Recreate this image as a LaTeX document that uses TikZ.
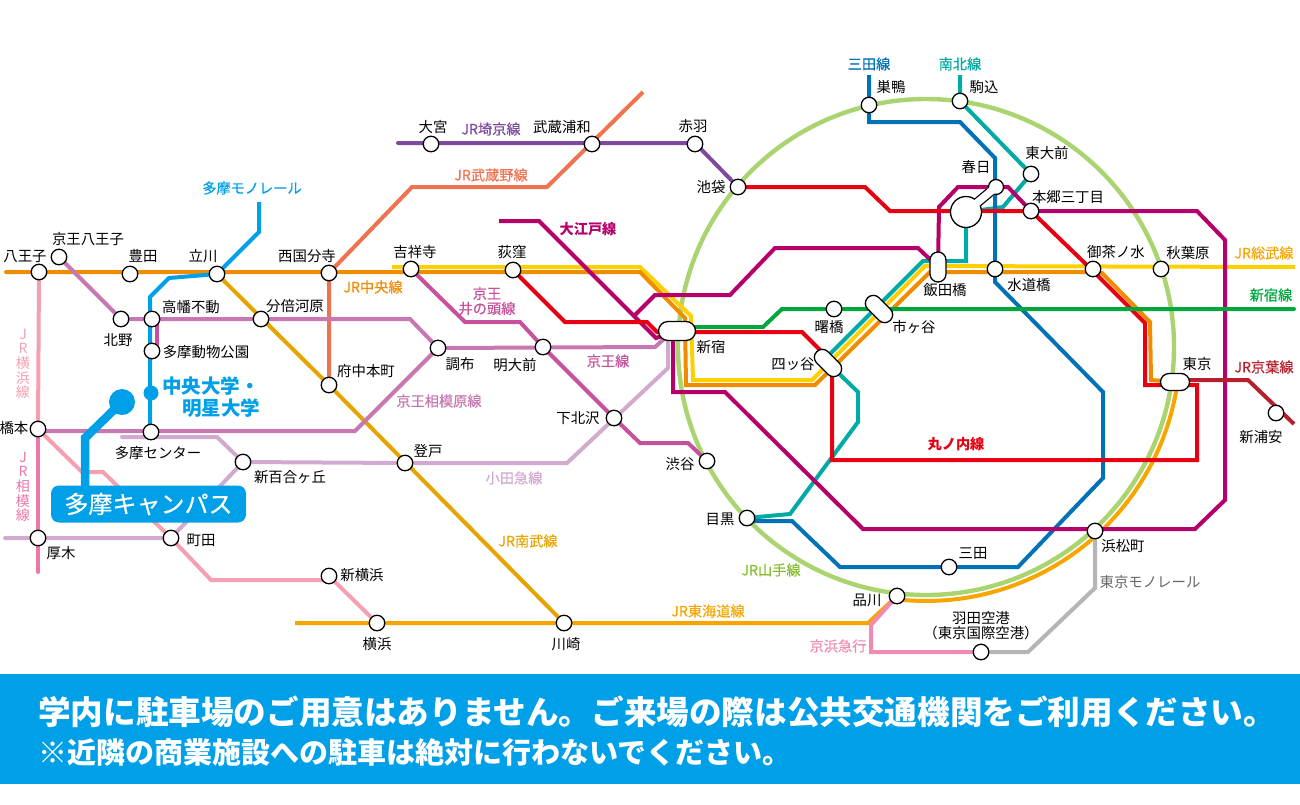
\documentclass[tikz,border=0pt]{standalone}
\usepackage{fontspec}
\setmainfont{Noto Sans CJK JP}
\usetikzlibrary{shapes.misc}
\pgfdeclarelayer{bg}
\pgfsetlayers{bg,main}
\definecolor{cring}{HTML}{A9D46F}
\definecolor{cringtxt}{HTML}{84BE2E}
\definecolor{corange}{HTML}{F08C00}
\definecolor{cyellow}{HTML}{FFD000}
\definecolor{ctoka}{HTML}{F7A600}
\definecolor{cnanbu}{HTML}{E6A400}
\definecolor{cmusa}{HTML}{EF7350}
\definecolor{csai}{HTML}{7D4A9E}
\definecolor{cmag}{HTML}{B5006A}
\definecolor{cred}{HTML}{E60012}
\definecolor{cgreen}{HTML}{00A73C}
\definecolor{cteal}{HTML}{00AAA5}
\definecolor{cmita}{HTML}{0072B5}
\definecolor{cmono}{HTML}{00A0E9}
\definecolor{ckeio}{HTML}{C878B0}
\definecolor{cino}{HTML}{C8519C}
\definecolor{coda}{HTML}{D2AAD0}
\definecolor{cyoko}{HTML}{F4A0B0}
\definecolor{csaga}{HTML}{EC77AB}
\definecolor{ckeiyo}{HTML}{B5202C}
\definecolor{cgray}{HTML}{B5B5B5}
\definecolor{ckeikyu}{HTML}{F08CB4}
\tikzset{
 rail/.style={line width=4pt,line join=miter,miter limit=3},
 st/.style={circle,draw=black,fill=white,line width=1.3pt,minimum size=15.5pt,inner sep=0pt},
 capsule/.style={rounded rectangle,draw=black,fill=white,line width=1.3pt,inner sep=0pt},
 lb/.style={font=\fontsize{14.4pt}{15pt}\selectfont,text=black,inner sep=0pt,align=center},
 ln/.style={font=\fontsize{14.2pt}{15pt}\selectfont\addfontfeature{FakeBold=0.4},inner sep=0pt,align=center},
 lnb/.style={font=\fontsize{14.2pt}{15pt}\selectfont\bfseries,inner sep=0pt,align=center},
}
\begin{document}
\begin{tikzpicture}[x=1pt,y=-1pt]
\useasboundingbox (0,0) rectangle (1300,804);

% stations
\node[st] (hachioji) at (39,272) {};
\node[st] (khachioji) at (59,257) {};
\node[st] (toyoda) at (130,274) {};
\node[st] (tachikawa) at (217,274) {};
\node[st] (nishikoku) at (329,273) {};
\node[st] (kichi) at (411,269) {};
\node[st] (ogikubo) at (513,270) {};
\node[st] (kitano) at (121,319) {};
\node[st] (takahata) at (152,319) {};
\node[st] (dobutsu) at (152,351) {};
\node[st] (bubai) at (261,319) {};
\node[st] (fuchu) at (329,385) {};
\node[st] (chofu) at (438,348) {};
\node[st] (meidai) at (543,347) {};
\node[st] (shimokita) at (614,418) {};
\node[st] (hashimoto) at (38,429) {};
\node[st] (tamac) at (151,432) {};
\node[st] (yuri) at (243,462) {};
\node[st] (noborito) at (405,463) {};
\node[st] (shibuya) at (707,461) {};
\node[st] (atsugi) at (38,538) {};
\node[st] (machida) at (171,538) {};
\node[st] (shinyoko) at (329,576) {};
\node[st] (yokohama) at (377,623) {};
\node[st] (kawasaki) at (564,623) {};
\node[st] (shinagawa) at (897,596) {};
\node[st] (haneda) at (981,652) {};
\node[st] (meguro) at (747,518) {};
\node[st] (mita) at (949,567) {};
\node[st] (hamamatsu) at (1095,531) {};
\node[st] (ochanomizu) at (1093,269) {};
\node[st] (akihabara) at (1161,269) {};
\node[st] (suido) at (995,269) {};
\node[st] (akebono) at (834,309) {};
\node[st] (ikebukuro) at (738,187) {};
\node[st] (akabane) at (695,144) {};
\node[st] (musashi) at (592,144) {};
\node[st] (omiya) at (431,144) {};
\node[st] (sugamo) at (869,105) {};
\node[st] (komagome) at (960,101) {};
\node[st] (todai) at (1031,174) {};
\node[st] (hongo) at (1031,211) {};
\node[st] (shinura) at (1276,413) {};
\node[st,minimum size=31pt] (kasugab) at (966,212) {};
\node[st,minimum size=15pt] (kasugas) at (996,187) {};
\draw[white,line width=7.5pt] (kasugab.center) -- (kasugas.center);
\node[capsule,minimum width=37pt,minimum height=19pt] (shinjuku) at (677,331) {};
\node[capsule,minimum width=29pt,minimum height=17pt] (tokyo) at (1175,382) {};
\node[capsule,minimum width=30pt,minimum height=16pt,rotate=90] (iidabashi) at (938,267) {};
\node[capsule,minimum width=32pt,minimum height=16pt,rotate=-45] (ichigaya) at (879,309) {};
\node[capsule,minimum width=32pt,minimum height=16pt,rotate=-45] (yotsuya) at (828,363) {};

% lines
\begin{pgfonlayer}{bg}
\fill[white] (0,0) rectangle (1300,804);
\fill[cmono] (0,674) rectangle (1300,784);
\draw[cring,line width=4.4pt] (926,347) circle[radius=248];
\draw[black,line width=10pt] (kasugab.center) -- (kasugas.center);
% Tokaido
\draw[ctoka,rail] (295,623) -- (yokohama.center) -- (kawasaki.center) -- (868,623) -- (shinagawa.center);
\draw[ctoka,rail] plot[domain=8:96,samples=40] ({926+254*cos(\x)},{347+254*sin(\x)});
% Chuo / Sobu
\draw[cyellow,rail] (392,267) -- (640,267) -- (691,316) -- (693,380) -- (812,380) -- (925,266) -- (1295,267);
\draw[corange,rail,line cap=round] (6,272) -- (hachioji.center) -- (640,272) -- (685,318) -- (686,385) -- (815,385) -- (930,272) -- (1087,272) -- (1102,273) -- (1150,322) -- (1151,380) -- (tokyo.center);
% Nanboku
\draw[cteal,rail] (960,75) -- (komagome.center) -- (todai.center) -- (1003,207) -- (kasugab.center) -- (966,261) -- (923,261) -- (829,355) -- (yotsuya.center) -- (858,392) -- (858,422) -- (790,514) -- (meguro.center);
% Mita
\draw[cmita,rail] (869,75) -- (869,122) -- (960,122) -- (995,158) -- (995,282) -- (1103,392) -- (1103,478) -- (1018,567) -- (840,567) -- (792,521) -- (747,521);
% Oedo
\draw[cmag,rail] (499,221) -- (539,221) -- (656,338) -- (shinjuku.center);
\draw[cmag,rail] (634,316) -- (655,295) -- (730,295) -- (775,248) -- (918,248) -- (iidabashi.center) -- (939,207) -- (958,187) -- (1008,187) -- (hongo.center) -- (1197,211) -- (1225,240) -- (1225,500) -- (1195,529) -- (863,529) -- (725,392) -- (673,392) -- (673,335);
% Marunouchi
\draw[cred,rail] (ogikubo.center) -- (565,322) -- (647,322) -- (657,332) -- (802,332) -- (829,359) -- (832,372) -- (832,460) -- (1197,460) -- (1197,385) -- (1145,385) -- (1145,323) -- (1093,271) -- (hongo.center) -- (890,211) -- (865,187) -- (ikebukuro.center);
% Shinjuku line
\draw[cgreen,rail,line cap=round] (shinjuku.center) -- (677,327) -- (763,327) -- (782,309) -- (1294,309);
% Inokashira branch, Tama zoo
\draw[cino,rail] (156.5,319) -- (156.5,351);
% Monorail
\draw[cmono,rail] (259,202) -- (259,232) -- (tachikawa.center) -- (169,278) -- (150,297) -- (150,432);
% Nanbu
\draw[cnanbu,rail] (tachikawa.center) -- (fuchu.center) -- (kawasaki.center);
% Musashino
\draw[cmusa,rail] (fuchu.center) -- (nishikoku.center) -- (412,187) -- (547,187) -- (643,92);
% Saikyo
\draw[csai,rail,line cap=round] (398,143) -- (695,143) -- (ikebukuro.center);
% Keio
\draw[ckeio,rail] (khachioji.center) -- (kitano.center) -- (takahata.center) -- (bubai.center) -- (410,319) -- (chofu.center) -- (655,347) -- (665,338);
\draw[ckeio,rail] (38,431) -- (355,431) -- (chofu.center);
% Inokashira
\draw[cino,rail] (kichi.center) -- (465,322) -- (520,322) -- (meidai.center) -- (shimokita.center) -- (640,443) -- (688,443) -- (shibuya.center);
% Odakyu
\draw[coda,rail,line cap=round] (5,538) -- (machida.center) -- (yuri.center) -- (noborito.center) -- (567,463) -- (668,368) -- (668,331);
\draw[coda,rail,line cap=round] (122,437) -- (217,437) -- (yuri.center);
% Yokohama
\draw[cyoko,rail] (hachioji.center) -- (hashimoto.center) -- (82,472) -- (103,472) -- (machida.center) -- (211,580) -- (329,580) -- (shinyoko.center) -- (yokohama.center);
\draw[csaga,rail,line cap=round] (hashimoto.center) -- (38,572);
% Keiyo
\draw[ckeiyo,rail] (tokyo.center) -- (1175,380) -- (1248,380) -- (1294,424);
% Tokyo monorail, Keikyu
\draw[cgray,rail] (hamamatsu.center) -- (1095,588) -- (1028,652) -- (haneda.center);
\draw[ckeikyu,rail] (shinagawa.center) -- (871,625) -- (871,652) -- (haneda.center);
% Campus
\draw[cmono,line width=8.5pt] (122,402) -- (85,438) -- (85,492);
\end{pgfonlayer}

% campus marks
\node[circle,fill=cmono,minimum size=26pt,inner sep=0pt] (campusdot) at (122,402) {};
\node[circle,fill=cmono,minimum size=15pt,inner sep=0pt] (univdot) at (151,393) {};
\node[fill=cmono,rounded corners=8pt,minimum width=195pt,minimum height=37pt,inner sep=0pt,text=white,font=\fontsize{24pt}{26pt}\selectfont\addfontfeature{FakeBold=0.5}] (campus) at (148.5,504) {多摩キャンパス};
\node[inner sep=0pt,anchor=west,text=cmono,font=\fontsize{19.5pt}{21pt}\selectfont\bfseries] (univa) at (162,386) {中央大学・};
\node[inner sep=0pt,anchor=west,text=cmono,font=\fontsize{19.5pt}{21pt}\selectfont\bfseries] (univb) at (182,408) {明星大学};

% station labels
\node[lb] (t1) at (25,257) {八王子};
\node[lb] (t2) at (88,239) {京王八王子};
\node[lb] (t3) at (143,256) {豊田};
\node[lb] (t4) at (203,256) {立川};
\node[lb] (t5) at (307,256) {西国分寺};
\node[lb] (t6) at (415,252) {吉祥寺};
\node[lb] (t7) at (512,252) {荻窪};
\node[lb] (t8) at (562,127) {武蔵浦和};
\node[lb] (t9) at (433,127) {大宮};
\node[lb] (t10) at (693,126) {赤羽};
\node[lb] (t11) at (711,187) {池袋};
\node[lb] (t12) at (191,307) {高幡不動};
\node[lb] (t13) at (206,352) {多摩動物公園};
\node[lb] (t14) at (118,340) {北野};
\node[lb] (t15) at (295,306) {分倍河原};
\node[lb] (t16) at (366,371) {府中本町};
\node[lb] (t17) at (460,364) {調布};
\node[lb] (t18) at (515,365) {明大前};
\node[lb] (t19) at (578,418) {下北沢};
\node[lb] (t20) at (680,464) {渋谷};
\node[lb] (t21) at (14,428) {橋本};
\node[lb] (t22) at (158,453) {多摩センター};
\node[lb] (t23) at (290,477) {新百合ヶ丘};
\node[lb] (t24) at (428,451) {登戸};
\node[lb] (t25) at (61,553) {厚木};
\node[lb] (t26) at (201,540) {町田};
\node[lb] (t27) at (362,575) {新横浜};
\node[lb] (t28) at (377,644) {横浜};
\node[lb] (t29) at (566,644) {川崎};
\node[lb] (t30) at (720,519) {目黒};
\node[lb] (t31) at (973,553) {三田};
\node[lb] (t32) at (867,600) {品川};
\node[lb] (t33) at (981,625.5) {羽田空港\\（東京国際空港）};
\node[lb] (t34) at (1123,546) {浜松町};
\node[lb] (t35) at (891,87) {巣鴨};
\node[lb] (t36) at (984,87) {駒込};
\node[lb] (t37) at (1047,153) {東大前};
\node[lb] (t38) at (976,167) {春日};
\node[lb] (t39) at (1068,197) {本郷三丁目};
\node[lb] (t40) at (1116,252) {御茶ノ水};
\node[lb] (t41) at (1188,253) {秋葉原};
\node[lb] (t42) at (945,290) {飯田橋};
\node[lb] (t43) at (1029,285) {水道橋};
\node[lb] (t44) at (914,327) {市ヶ谷};
\node[lb] (t45) at (829,327) {曙橋};
\node[lb] (t46) at (793,364) {四ッ谷};
\node[lb] (t47) at (711,347) {新宿};
\node[lb] (t48) at (1197,364) {東京};
\node[lb] (t49) at (1261,437) {新浦安};

% line labels
\node[ln,text=cmono] (n1) at (252,188) {多摩モノレール};
\node[ln,text=corange] (n2) at (373,287) {JR中央線};
\node[ln,text=cmusa] (n3) at (491,175) {JR武蔵野線};
\node[ln,text=csai] (n4) at (491,129) {JR埼京線};
\node[lnb,text=cmag] (n5) at (588,229) {大江戸線};
\node[ln,text=cino] (n6) at (487,301) {京王\\井の頭線};
\node[ln,text=cino] (n7) at (608,361) {京王線};
\node[ln,text=ckeio] (n8) at (439,401) {京王相模原線};
\node[ln,text=coda] (n9) at (514,478) {小田急線};
\node[ln,text=cnanbu] (n10) at (528,541) {JR南武線};
\node[ln,text=ctoka] (n11) at (708,611) {JR東海道線};
\node[ln,text=cringtxt] (n12) at (771,570) {JR山手線};
\node[lnb,text=cred] (n13) at (956,444) {丸ノ内線};
\node[ln,text=cmita] (n14) at (869,64) {三田線};
\node[ln,text=cteal] (n15) at (960,64) {南北線};
\node[ln,text=ctoka] (n16) at (1264,253) {JR総武線};
\node[ln,text=cgreen] (n17) at (1271,295) {新宿線};
\node[ln,text=ckeiyo] (n18) at (1264,367) {JR京葉線};
\node[ln,text=black!60,font=\fontsize{14.4pt}{15pt}\selectfont] (n19) at (1150,582) {東京モノレール};
\node[ln,text=ckeikyu] (n20) at (838,646) {京浜急行};
\node[ln,text=cyoko,font=\fontsize{14pt}{14.6pt}\selectfont] (n21) at (23,364) {J\\R\\横\\浜\\線};
\node[ln,text=csaga,font=\fontsize{14pt}{14.6pt}\selectfont] (n22) at (23,487) {J\\R\\相\\模\\線};

% band text
\node[inner sep=0pt,anchor=west,text=white,font=\fontsize{32.6pt}{33pt}\selectfont\bfseries] (b1) at (38,712) {学内に駐車場のご用意はありません。ご来場の際は公共交通機関をご利用ください。};
\node[inner sep=0pt,anchor=west,text=white,font=\fontsize{29pt}{30pt}\selectfont\bfseries] (b2) at (38,752) {※近隣の商業施設への駐車は絶対に行わないでください。};
\end{tikzpicture}
\end{document}
